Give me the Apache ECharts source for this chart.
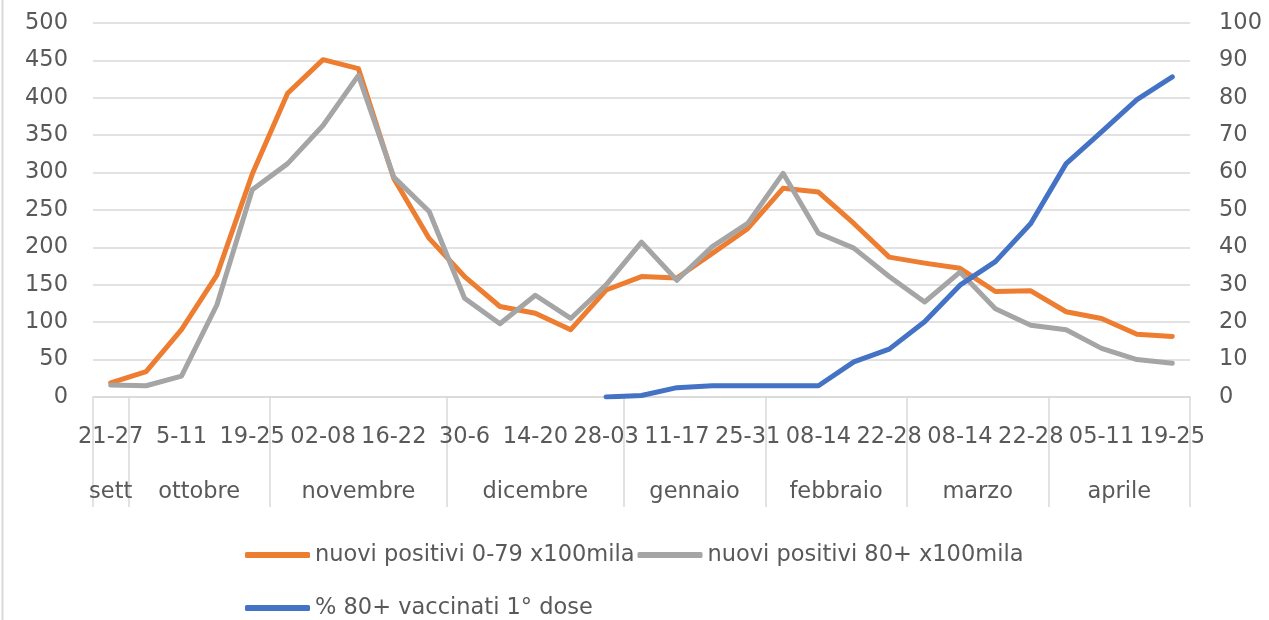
<!DOCTYPE html>
<html>
<head>
<meta charset="utf-8">
<script src="https://cdn.jsdelivr.net/npm/echarts@6/dist/echarts.min.js"></script>
<style>
html,body{margin:0;padding:0;background:#fff;}
#c{width:1269px;height:620px;}
</style>
</head>
<body>
<div id="c"></div>
<script>
const weeks = ['21-27','28-04','5-11','12-18','19-25','26-01','02-08','09-15','16-22','23-29','30-6','07-13','14-20','21-27','28-03','04-10','11-17','18-24','25-31','01-07','08-14','15-21','22-28','01-07','08-14','15-21','22-28','29-04','05-11','12-18','19-25'];
const months = ['sett','ottobre','novembre','dicembre','gennaio','febbraio','marzo','aprile'];
const monthWeekCounts = [1,4,5,5,4,4,4,4];
const pos079 = [19,34,90,163,298,406,451,439,292,212,161,121,112,90,143,161,159,192,225,279,274,232,187,179,172,141,142,114,105,84,81];
const pos80 = [16,15,28,123,277,312,363,430,294,248,132,98,136,105,150,207,156,201,232,299,219,199,161,127,167,118,96,90,65,50,45];
const vacc80 = [null,null,null,null,null,null,null,null,null,null,null,null,null,null,0,0.4,2.5,3.0,3.0,3.0,3.0,9.4,12.8,20.1,29.9,36.2,46.4,62.4,70.9,79.5,85.6];
const leftTicks = {min:0,max:500,interval:50};
const rightTicks = {min:0,max:100,interval:10};

// month boundaries and centres derived from week counts
const bounds = [0]; const centres = [];
monthWeekCounts.forEach(n => { const s = bounds[bounds.length-1]; centres.push(s + n/2); bounds.push(s + n); });

const FONT = '"DejaVu Sans"';
const FS = 22.5;
const TXT = '#595959';
const GRID = '#d9d9d9';

const chart = echarts.init(document.getElementById('c'));
chart.setOption({
  animation:false,
  backgroundColor:'#fff',
  textStyle:{fontFamily:FONT},
  grid:{left:93,right:79,top:23,bottom:223,containLabel:false},
  graphic:[{type:'line',shape:{x1:2.5,y1:0,x2:2.5,y2:620},style:{stroke:'#d9d9d9',lineWidth:2}}],
  legend:{
    left:240, top:525, width:820,
    itemWidth:65, itemHeight:6, itemGap:3, icon:'roundRect',
    textStyle:{fontFamily:FONT,fontSize:FS,color:TXT,lineHeight:50},
    data:['nuovi positivi 0-79 x100mila','nuovi positivi 80+ x100mila','% 80+ vaccinati 1° dose']
  },
  xAxis:[
    {type:'category',data:weeks,boundaryGap:true,position:'bottom',
     axisLine:{show:true,lineStyle:{color:GRID,width:1.5}},
     axisTick:{show:false},
     axisLabel:{interval:1,margin:29,fontSize:FS,color:TXT,fontFamily:FONT}},
    {type:'value',min:0,max:bounds[bounds.length-1],position:'bottom',
     axisLine:{show:false},splitLine:{show:false},
     axisTick:{show:true,customValues:bounds,length:110,lineStyle:{color:GRID,width:1.5}},
     axisLabel:{customValues:centres,margin:84,fontSize:FS,color:TXT,fontFamily:FONT,
       formatter:v=>{const i=centres.indexOf(v);return i>=0?months[i]:'';}}}
  ],
  yAxis:[
    {type:'value',min:leftTicks.min,max:leftTicks.max,interval:leftTicks.interval,position:'left',
     axisLine:{show:false},axisTick:{show:false},
     splitLine:{lineStyle:{color:GRID,width:1.5}},
     axisLabel:{margin:25,fontSize:FS,color:TXT,fontFamily:FONT}},
    {type:'value',min:rightTicks.min,max:rightTicks.max,interval:rightTicks.interval,position:'right',
     axisLine:{show:false},axisTick:{show:false},splitLine:{show:false},
     axisLabel:{margin:29,fontSize:FS,color:TXT,fontFamily:FONT}}
  ],
  series:[
    {name:'nuovi positivi 0-79 x100mila',type:'line',data:pos079,xAxisIndex:0,yAxisIndex:0,symbol:'none',
     itemStyle:{color:'#ED7D31'},lineStyle:{color:'#ED7D31',width:5,cap:'round',join:'round'},z:3},
    {name:'nuovi positivi 80+ x100mila',type:'line',data:pos80,xAxisIndex:0,yAxisIndex:0,symbol:'none',
     itemStyle:{color:'#A5A5A5'},lineStyle:{color:'#A5A5A5',width:5,cap:'round',join:'round'},z:4},
    {name:'% 80+ vaccinati 1° dose',type:'line',data:vacc80,xAxisIndex:0,yAxisIndex:1,symbol:'none',
     itemStyle:{color:'#4472C4'},lineStyle:{color:'#4472C4',width:5,cap:'round',join:'round'},z:5}
  ]
});
</script>
</body>
</html>
